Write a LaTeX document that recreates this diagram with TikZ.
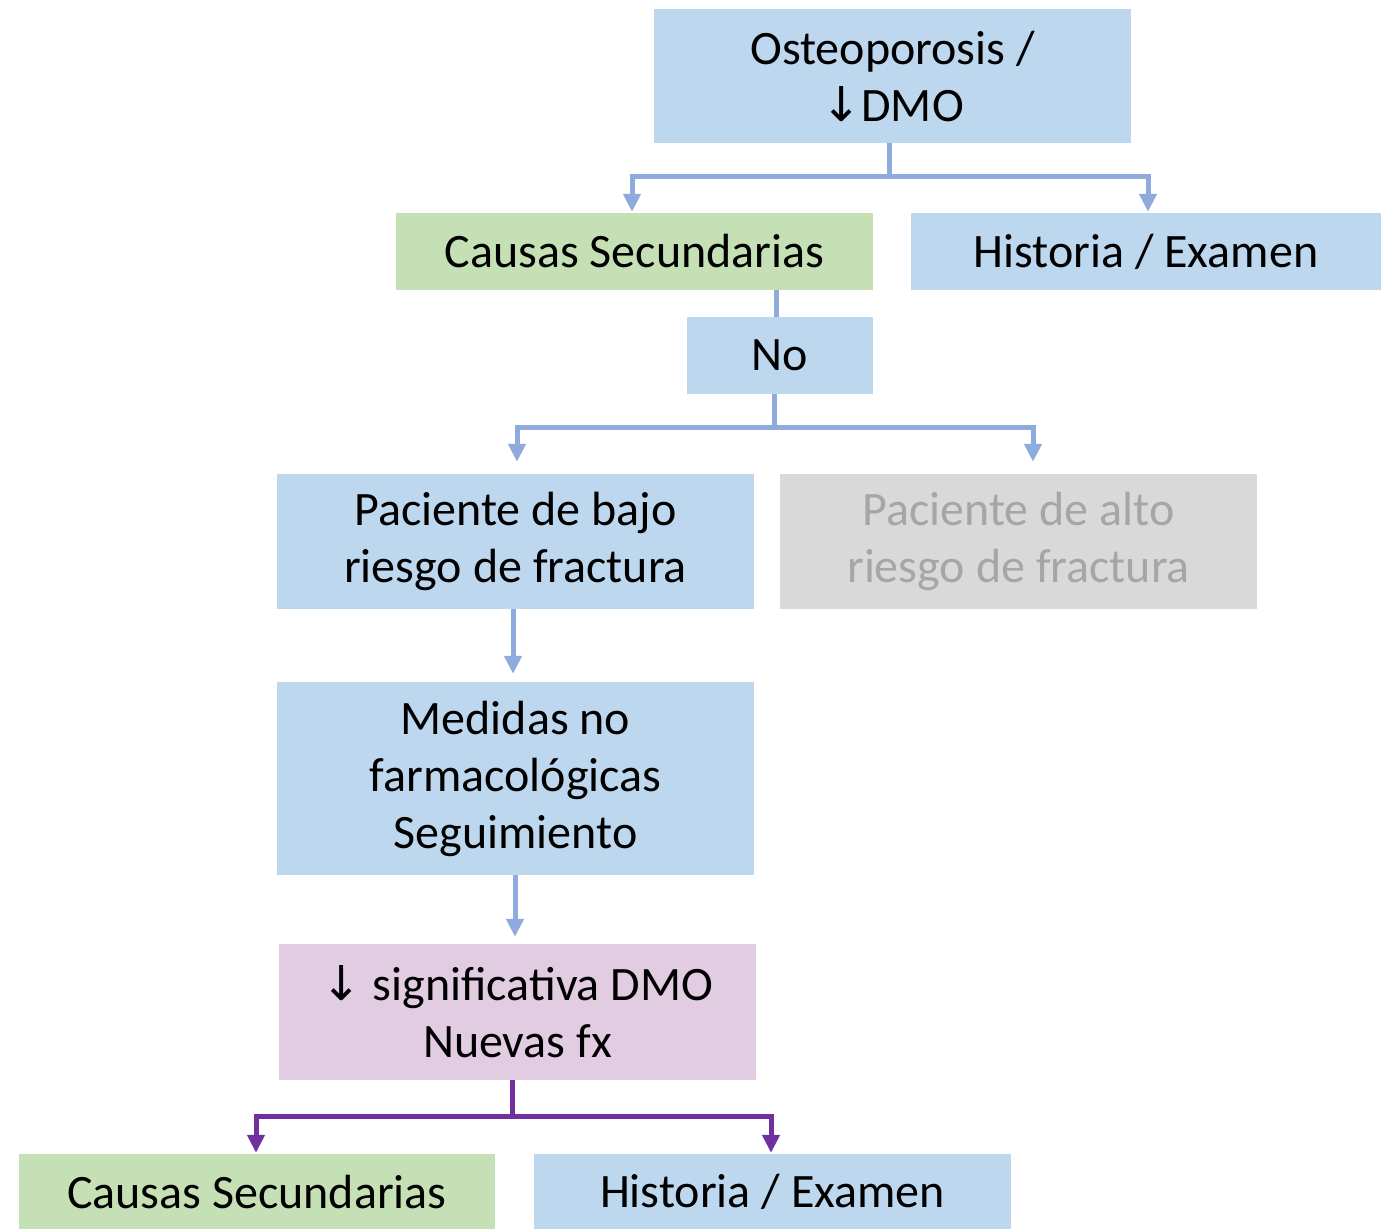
\documentclass[tikz,border=0pt]{standalone}
\usepackage{fontspec}
\setmainfont{Carlito}
\newfontfamily\symfont{DejaVu Sans}
\usetikzlibrary{arrows.meta}
\definecolor{boxblue}{HTML}{BDD7EE}
\definecolor{boxgreen}{HTML}{C5E0B4}
\definecolor{boxgrey}{HTML}{D9D9D9}
\definecolor{boxpink}{HTML}{E2CCE2}
\definecolor{txtgrey}{HTML}{A6A6A6}
\definecolor{lineblue}{HTML}{8FAADC}
\definecolor{linepurple}{HTML}{7030A0}
\tikzset{
  box/.style={rectangle, inner sep=0pt, align=center, font=\fontsize{48}{57}\selectfont},
  bluebox/.style={box, fill=boxblue},
  greenbox/.style={box, fill=boxgreen},
  greybox/.style={box, fill=boxgrey, text=txtgrey},
  pinkbox/.style={box, fill=boxpink},
  conn/.style={line width=5pt, draw=lineblue},
  connarrow/.style={conn, -{Triangle[width=17pt,length=18pt]}},
  pconn/.style={line width=5pt, draw=linepurple},
  pconnarrow/.style={pconn, -{Triangle[width=17pt,length=18pt]}}
}
\newcommand{\dnarrow}{{\symfont\char"2193}}
\begin{document}
\begin{tikzpicture}[x=1pt,y=-1pt]
\useasboundingbox (0,0) rectangle (1381,1229);
\fill[white] (0,0) rectangle (1381,1229);

\node[bluebox, minimum width=477pt, minimum height=134pt] (top) at (892.5,76) {Osteoporosis /\\\dnarrow DMO};
\node[greenbox, minimum width=477pt, minimum height=77pt] (c1) at (634.5,251.5) {Causas Secundarias};
\node[bluebox, minimum width=470pt, minimum height=77pt] (h1) at (1146,251.5) {Historia / Examen};
\node[bluebox, minimum width=186pt, minimum height=77pt] (no) at (780,355.5) {No};
\node[bluebox, minimum width=477pt, minimum height=135pt] (pb) at (515.5,541.5) {Paciente de bajo\\riesgo de fractura};
\node[greybox, minimum width=477pt, minimum height=135pt] (pa) at (1018.5,541.5) {Paciente de alto\\riesgo de fractura};
\node[bluebox, minimum width=477pt, minimum height=193pt] (med) at (515.5,778.5) {Medidas no\\farmacológicas\\Seguimiento};
\node[pinkbox, minimum width=477pt, minimum height=136pt] (sig) at (517.5,1012) {\dnarrow{} significativa DMO\\Nuevas fx};
\node[greenbox, minimum width=476pt, minimum height=75pt] (c2) at (257,1191.5) {Causas Secundarias};
\node[bluebox, minimum width=477pt, minimum height=75pt] (h2) at (772.5,1191.5) {Historia / Examen};

% top split
\coordinate (j1) at (889,176);
\draw[conn] (top.south -| j1) -- (j1);
\draw[connarrow] (j1) -| ([xshift=-2.5pt,yshift=1pt]c1.north);
\draw[connarrow] (j1) -| ([xshift=2pt,yshift=1pt]h1.north);

% causas -> no
\coordinate (k1) at (776,0);
\draw[conn] (c1.south -| k1) -- (no.north -| k1);

% no split
\coordinate (j2) at (774,427);
\draw[conn] (no.south -| j2) -- (j2);
\draw[connarrow] (j2) -| ([xshift=1.5pt,yshift=12pt]pb.north);
\draw[connarrow] (j2) -| ([xshift=14.5pt,yshift=12pt]pa.north);

% vertical chain
\coordinate (k2) at (513,0);
\coordinate (k3) at (515,0);
\draw[connarrow] (pb.south -| k2) -- ([yshift=8pt]med.north -| k2);
\draw[connarrow] (med.south -| k3) -- ([yshift=7pt]sig.north -| k3);

% purple split
\coordinate (j3) at (512,1116);
\draw[pconn] (sig.south -| j3) -- (j3);
\draw[pconnarrow] (j3) -| ([xshift=-1pt,yshift=1pt]c2.north);
\draw[pconnarrow] (j3) -| ([xshift=-1.5pt,yshift=1pt]h2.north);
\end{tikzpicture}
\end{document}
